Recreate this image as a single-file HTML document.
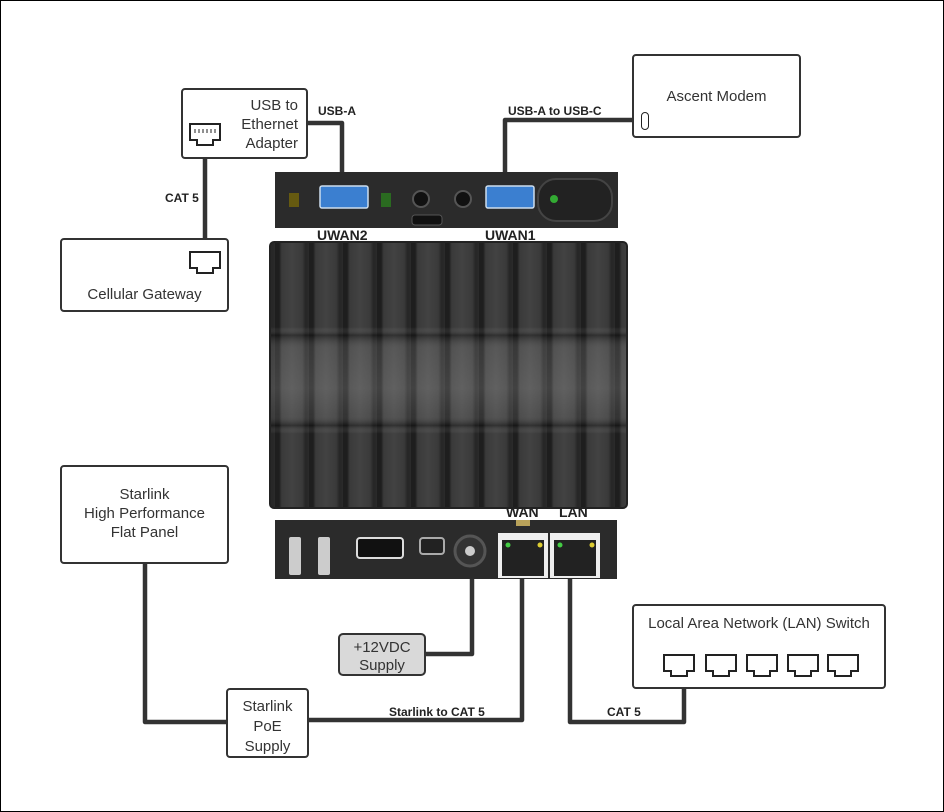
<!DOCTYPE html>
<html><head><meta charset="utf-8"><style>
body{margin:0;width:944px;height:812px;background:#fff;font-family:"Liberation Sans",sans-serif;position:relative;overflow:hidden}
.frame{position:absolute;left:0;top:0;width:942px;height:810px;border:1px solid #000}
.box{position:absolute;border:2.5px solid #333;border-radius:4px;background:#fff;box-sizing:border-box;color:#333;font-size:15px;text-align:center}
.lbl{position:absolute;font-size:12px;font-weight:bold;color:#222}
.big{position:absolute;font-size:14px;font-weight:bold;color:#222}
</style></head><body>
<div class="frame"></div>
<svg width="944" height="812" style="position:absolute;left:0;top:0">
<g fill="none" stroke="#333" stroke-width="4.5" stroke-linejoin="round">
<path d="M306 123 H342 V175"/>
<path d="M205 158 V238"/>
<path d="M633 120 H505 V175"/>
<path d="M145 563 V722 H228"/>
<path d="M308 720 H522 V575"/>
<path d="M425 654 H472 V575"/>
<path d="M570 575 V722 H684 V688"/>
</g>
<defs>
<linearGradient id="fin" x1="0" x2="1" y1="0" y2="0">
<stop offset="0" stop-color="#1e1e1e"/><stop offset="0.12" stop-color="#1e1e1e"/><stop offset="0.2" stop-color="#3a3a3a"/><stop offset="0.5" stop-color="#424242"/><stop offset="0.8" stop-color="#3a3a3a"/><stop offset="0.9" stop-color="#262626"/><stop offset="1" stop-color="#2a2a2a"/>
</linearGradient>
<linearGradient id="vs" x1="0" x2="0" y1="0" y2="1">
<stop offset="0" stop-color="#fff" stop-opacity="0"/><stop offset="0.32" stop-color="#fff" stop-opacity="0"/><stop offset="0.35" stop-color="#000" stop-opacity="0.25"/><stop offset="0.4" stop-color="#fff" stop-opacity="0.12"/><stop offset="0.55" stop-color="#fff" stop-opacity="0.16"/><stop offset="0.65" stop-color="#fff" stop-opacity="0.1"/><stop offset="0.69" stop-color="#000" stop-opacity="0.25"/><stop offset="0.72" stop-color="#fff" stop-opacity="0"/><stop offset="1" stop-color="#fff" stop-opacity="0"/>
</linearGradient>
<pattern id="fp" x="275" y="0" width="34" height="10" patternUnits="userSpaceOnUse">
<rect width="34" height="10" fill="url(#fin)"/>
</pattern>
</defs>
<rect x="270" y="242" width="357" height="266" rx="4" fill="url(#fp)"/>
<rect x="270" y="242" width="357" height="266" fill="url(#vs)"/>
<rect x="270" y="242" width="357" height="266" rx="4" fill="none" stroke="#222" stroke-width="2"/>
<rect x="275" y="172" width="343" height="56" fill="#2b2b2b"/>
<rect x="289" y="193" width="10" height="14" fill="#665a10"/>
<rect x="320" y="186" width="48" height="22" rx="2" fill="#3b7fd0" stroke="#cde" stroke-width="1.5"/>
<rect x="381" y="193" width="10" height="14" fill="#2a6a20"/>
<circle cx="421" cy="199" r="8" fill="#111" stroke="#555" stroke-width="2"/>
<circle cx="463" cy="199" r="8" fill="#111" stroke="#555" stroke-width="2"/>
<rect x="412" y="215" width="30" height="10" rx="3" fill="#111" stroke="#555"/>
<rect x="486" y="186" width="48" height="22" rx="2" fill="#3b7fd0" stroke="#cde" stroke-width="1.5"/>
<rect x="538" y="179" width="74" height="42" rx="18" fill="#222" stroke="#444" stroke-width="2"/>
<circle cx="554" cy="199" r="4" fill="#3a3"/>
<rect x="275" y="520" width="342" height="59" fill="#2b2b2b"/>
<rect x="289" y="537" width="12" height="38" rx="2" fill="#ccc"/>
<rect x="318" y="537" width="12" height="38" rx="2" fill="#ccc"/>
<rect x="357" y="538" width="46" height="20" rx="3" fill="#111" stroke="#ddd" stroke-width="2"/>
<rect x="420" y="538" width="24" height="16" rx="3" fill="#222" stroke="#aaa" stroke-width="2"/>
<circle cx="470" cy="551" r="15" fill="#333" stroke="#555" stroke-width="3"/>
<circle cx="470" cy="551" r="5" fill="#ccc"/>
<rect x="498" y="533" width="50" height="45" fill="#eee"/>
<rect x="502" y="540" width="42" height="36" fill="#222"/>
<rect x="550" y="533" width="50" height="45" fill="#eee"/>
<rect x="554" y="540" width="42" height="36" fill="#222"/>
<circle cx="508" cy="545" r="2.5" fill="#4c4"/><circle cx="540" cy="545" r="2.5" fill="#dc3"/>
<circle cx="560" cy="545" r="2.5" fill="#4c4"/><circle cx="592" cy="545" r="2.5" fill="#dc3"/>
<rect x="516" y="520" width="14" height="6" fill="#b9a25a"/>
</svg>
<div class="box" style="left:181px;top:88px;width:127px;height:71px;text-align:right;padding:6px 8px 0 0;line-height:19px">USB to<br>Ethernet<br>Adapter</div>
<div class="box" style="left:60px;top:238px;width:169px;height:74px;padding-top:46px">Cellular Gateway</div>
<div class="box" style="left:632px;top:54px;width:169px;height:84px;padding-top:32px">Ascent Modem</div>
<div style="position:absolute;left:641px;top:112px;width:6px;height:16px;border:1.5px solid #222;border-radius:4px"></div>
<div class="box" style="left:60px;top:465px;width:169px;height:99px;padding-top:18px;line-height:19px">Starlink<br>High Performance<br>Flat Panel</div>
<div class="box" style="left:226px;top:688px;width:83px;height:70px;padding-top:7px;line-height:20px">Starlink<br>PoE<br>Supply</div>
<div class="box" style="left:338px;top:633px;width:88px;height:43px;background:#d9d9d9;border-radius:5px;padding-top:4px;line-height:18px;border-width:2px">+12VDC<br>Supply</div>
<div class="box" style="left:632px;top:604px;width:254px;height:85px;padding-top:9px">Local Area Network (LAN) Switch</div>
<svg width="944" height="812" style="position:absolute;left:0;top:0"><g fill="none" stroke="#222" stroke-width="2">
<path d="M190 124 h30 v16 h-7 v5 h-16 v-5 h-7 z"/>
<path d="M664 655 h30 v16 h-7 v5 h-16 v-5 h-7 z"/><path d="M706 655 h30 v16 h-7 v5 h-16 v-5 h-7 z"/><path d="M747 655 h30 v16 h-7 v5 h-16 v-5 h-7 z"/><path d="M788 655 h30 v16 h-7 v5 h-16 v-5 h-7 z"/><path d="M828 655 h30 v16 h-7 v5 h-16 v-5 h-7 z"/><path d="M190 252 h30 v16 h-7 v5 h-16 v-5 h-7 z"/></g>
<path d="M195 129 v4 M199 129 v4 M203 129 v4 M207 129 v4 M211 129 v4 M215 129 v4" stroke="#222"/></svg>
<div class="lbl" style="left:318px;top:104px">USB-A</div>
<div class="lbl" style="left:508px;top:104px">USB-A to USB-C</div>
<div class="lbl" style="left:165px;top:191px">CAT 5</div>
<div class="big" style="left:317px;top:227px">UWAN2</div>
<div class="big" style="left:485px;top:227px">UWAN1</div>
<div class="big" style="left:506px;top:504px">WAN</div>
<div class="big" style="left:559px;top:504px">LAN</div>
<div class="lbl" style="left:389px;top:705px">Starlink to CAT 5</div>
<div class="lbl" style="left:607px;top:705px">CAT 5</div>
</body></html>
